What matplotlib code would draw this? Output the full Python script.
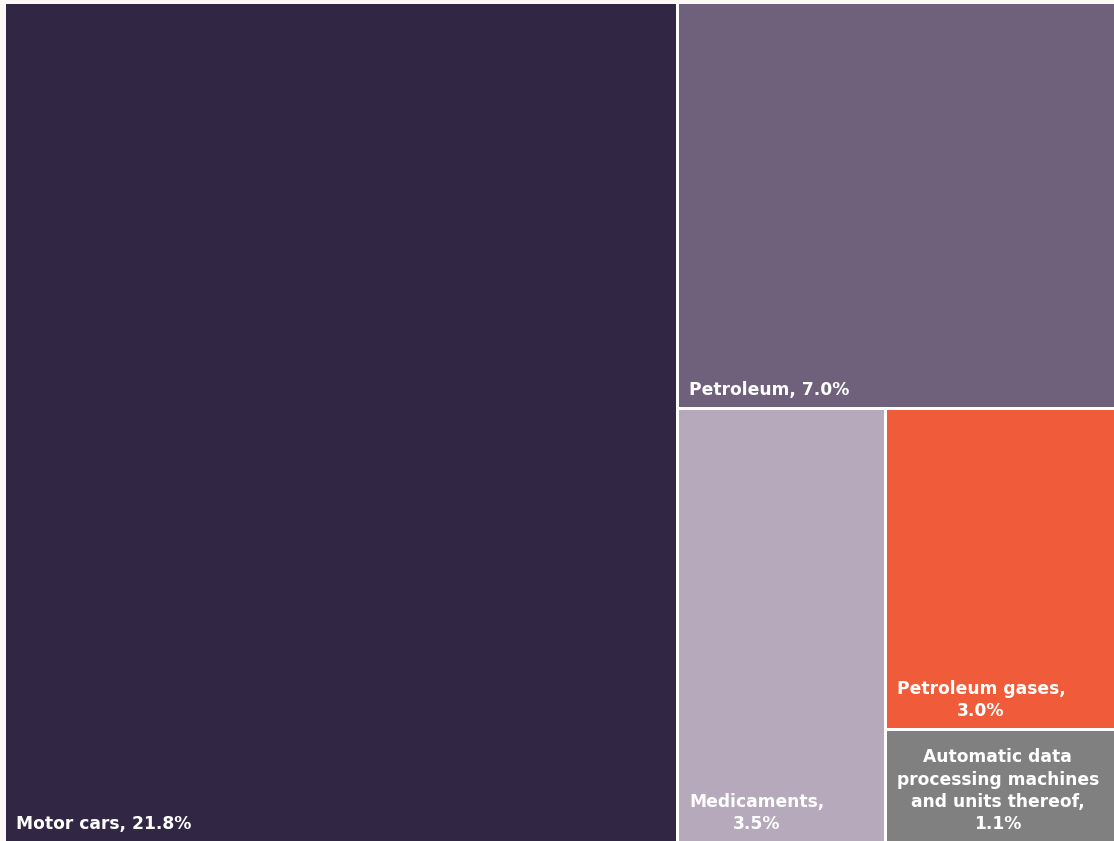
import matplotlib
matplotlib.use("Agg")
import matplotlib.pyplot as plt
from matplotlib.patches import Rectangle

labels = ["Motor cars, 21.8%", "Petroleum, 7.0%", "Medicaments,\n3.5%",
          "Petroleum gases,\n3.0%",
          "Automatic data\nprocessing machines\nand units thereof,\n1.1%"]
values = [21.8, 7.0, 3.5, 3.0, 1.1]
colors = ["#312644", "#6f617c", "#b5a9bb", "#f05c3a", "#808080"]

W, H = 1114, 841
# the treemap runs a little past the right and bottom edge of the picture
x0, y0, x1, y1 = 6, 4, 1128, 847
gap = 3.0


def slice_dice(vals, x, y, w, h):
    # alternate vertical / horizontal cuts, one item per cut
    rects = []
    total = sum(vals)
    vertical = True
    for i, v in enumerate(vals):
        if i == len(vals) - 1:
            rects.append((x, y, w, h))
            break
        frac = v / total
        if vertical:
            rects.append((x, y, w * frac, h))
            x += w * frac
            w -= w * frac
        else:
            rects.append((x, y, w, h * frac))
            y += h * frac
            h -= h * frac
        total -= v
        vertical = not vertical
    return rects


fig = plt.figure(figsize=(W / 100, H / 100), dpi=100, facecolor="#fcf8f6")
ax = fig.add_axes([0, 0, 1, 1])
ax.set_xlim(0, W)
ax.set_ylim(H, 0)
ax.axis("off")

rects = slice_dice(values, x0, y0, x1 - x0, y1 - y0)
for (rx, ry, rw, rh), lab, c in zip(rects, labels, colors):
    l = rx + (gap / 2 if rx > x0 + 0.5 else 0)
    t = ry + (gap / 2 if ry > y0 + 0.5 else 0)
    r = rx + rw - (gap / 2 if rx + rw < x1 - 0.5 else 0)
    b = ry + rh - (gap / 2 if ry + rh < y1 - 0.5 else 0)
    # white gaps between tiles
    if l > x0:
        ax.add_patch(Rectangle((l - gap, t), gap, b - t, color="white", lw=0))
    if t > y0:
        ax.add_patch(Rectangle((l, t - gap), r - l, gap, color="white", lw=0))
    ax.add_patch(Rectangle((l, t), r - l, b - t, facecolor=c, lw=0))
    ax.text(l + 10, min(b, H) - 8, lab, ha="left", va="bottom",
            multialignment="center", color="white", fontsize=12.3,
            fontweight="bold", family="DejaVu Sans", linespacing=1.3)

fig.savefig("out.png", dpi=100, facecolor=fig.get_facecolor())
